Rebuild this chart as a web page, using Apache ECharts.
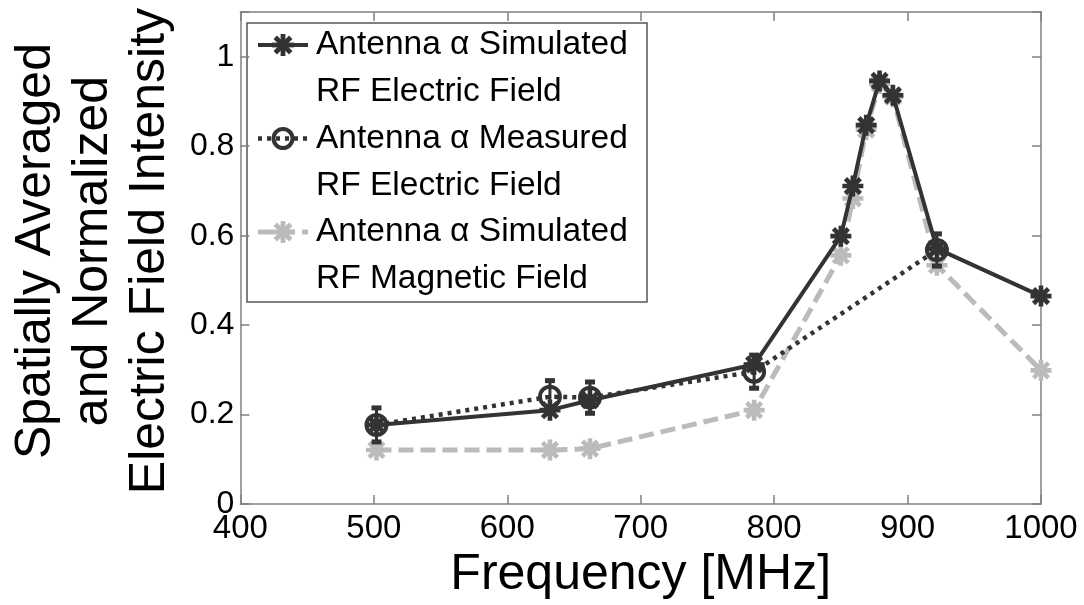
<!DOCTYPE html>
<html>
<head>
<meta charset="utf-8">
<script src="https://cdn.jsdelivr.net/npm/echarts@6/dist/echarts.min.js"></script>
<style>
html, body { margin: 0; padding: 0; background: #ffffff; }
#chart { width: 1084px; height: 605px; }
</style>
</head>
<body>
<div id="chart"></div>
<script>
// Frequencies (MHz) of the simulated sweep
const freqSim = [502, 632, 662, 785, 850, 859, 869, 879, 889, 922, 1000];
// Simulated RF electric field, normalized
const simElectric = [0.177, 0.210, 0.232, 0.312, 0.599, 0.711, 0.847, 0.946, 0.914, 0.571, 0.465];
// Simulated RF magnetic field, normalized
const simMagnetic = [0.121, 0.121, 0.124, 0.210, 0.556, 0.683, 0.837, 0.940, 0.910, 0.534, 0.299];
// Measured frequencies (MHz), values and error half-widths
const freqMeas = [502, 632, 662, 785, 922];
const measElectric = [0.177, 0.240, 0.238, 0.296, 0.568];
const measError = [0.038, 0.036, 0.035, 0.037, 0.036];

// Legend captions (two lines each)
const legendLabels = [
  ['Antenna \u03b1 Simulated', 'RF Electric Field'],
  ['Antenna \u03b1 Measured', 'RF Electric Field'],
  ['Antenna \u03b1 Simulated', 'RF Magnetic Field']
];
const xTitle = 'Frequency [MHz]';
const yTitle = ['Spatially Averaged', 'and Normalized', 'Electric Field Intensity'];

const DARK = '#333333';
const LIGHT = '#bbbbbb';
const AXIS = '#808080';
const FONT = 'Liberation Sans, Arial, sans-serif';

// Corner points of the four crossing bars that form an eight-spoked asterisk
function asteriskBars(cx, cy, R, w) {
  return [0, 45, 90, 135].map(function (deg) {
    const t = deg * Math.PI / 180, c = Math.cos(t), s = Math.sin(t);
    const nx = -s * w, ny = c * w;
    return [
      [cx + R * c + nx, cy + R * s + ny],
      [cx + R * c - nx, cy + R * s - ny],
      [cx - R * c - nx, cy - R * s - ny],
      [cx - R * c + nx, cy - R * s + ny]
    ];
  });
}
const ASTER = 'path://' + asteriskBars(10, 10, 10, 2.2).map(function (pts) {
  return 'M' + pts.map(function (p) { return p[0].toFixed(3) + ' ' + p[1].toFixed(3); }).join(' L') + ' Z';
}).join(' ');

const pairs = (xs, ys) => xs.map((x, i) => [x, ys[i]]);

// Legend drawn as a framed block with two-line captions
function buildLegend() {
  const LX = 247, LY = 23, LW = 400, LH = 279;
  const pitch = 93.5, first = LY + 22, lineGap = 47;
  const children = [{
    type: 'rect',
    shape: { x: LX, y: LY, width: LW, height: LH },
    style: { fill: '#ffffff', stroke: '#555555', lineWidth: 1.5 }
  }];
  const styles = [
    { color: DARK, dash: null, lw: 4, mark: 'aster' },
    { color: DARK, dash: [4, 5], lw: 4.5, mark: 'circle' },
    { color: LIGHT, dash: [15, 7], lw: 5, mark: 'aster' }
  ];
  legendLabels.forEach(function (lines, i) {
    const cy = first + i * pitch;
    const st = styles[i];
    const lineStyle = { stroke: st.color, lineWidth: st.lw };
    if (st.dash) lineStyle.lineDash = st.dash;
    children.push({
      type: 'line',
      shape: { x1: 258, y1: cy, x2: 308, y2: cy },
      style: lineStyle
    });
    if (st.mark === 'aster') {
      asteriskBars(283, cy, 11, 2.4).forEach(function (pts) {
        children.push({ type: 'polygon', shape: { points: pts }, style: { fill: st.color } });
      });
    } else {
      children.push({
        type: 'circle',
        shape: { cx: 283, cy: cy, r: 9.5 },
        style: { fill: 'rgba(0,0,0,0)', stroke: st.color, lineWidth: 4 }
      });
    }
    lines.forEach(function (t, k) {
      children.push({
        type: 'text',
        x: 316, y: cy + k * lineGap,
        style: { text: t, font: '33.5px ' + FONT, fill: '#000000', verticalAlign: 'middle', align: 'left' }
      });
    });
  });
  return { type: 'group', z: 100, children: children };
}

const chart = echarts.init(document.getElementById('chart'), null, { renderer: 'canvas' });

const xLabelFmt = function (v) { return String(v); };
const yLabelFmt = function (v) {
  return Math.abs(v * 5 - Math.round(v * 5)) < 1e-6 ? String(+v.toFixed(1)) : '';
};

const baseAxis = {
  axisLine: { show: true, onZero: false, lineStyle: { color: AXIS, width: 1.5 } },
  axisTick: { show: true, inside: true, length: 9, lineStyle: { color: AXIS, width: 1.5 } },
  splitLine: { show: false }
};

chart.setOption({
  animation: false,
  backgroundColor: '#ffffff',
  grid: { left: 238, right: 43, top: 12, bottom: 99, containLabel: false },
  xAxis: [
    Object.assign({}, baseAxis, {
      type: 'value', min: 400, max: 1000, interval: 100, position: 'bottom',
      axisLabel: { color: '#000000', fontSize: 33, fontFamily: FONT, margin: 8, formatter: xLabelFmt },
      name: xTitle, nameLocation: 'middle', nameGap: 41,
      nameTextStyle: { color: '#000000', fontSize: 50, fontFamily: FONT }
    }),
    Object.assign({}, baseAxis, {
      type: 'value', min: 400, max: 1000, interval: 100, position: 'top',
      axisLabel: { show: false }
    })
  ],
  yAxis: [
    Object.assign({}, baseAxis, {
      type: 'value', min: 0, max: 1.1, interval: 0.2, position: 'left',
      axisLabel: { color: '#000000', fontSize: 32, fontFamily: FONT, margin: 6, formatter: yLabelFmt },
      name: yTitle.join('\n'), nameLocation: 'middle', nameRotate: 90, nameGap: 60,
      nameTextStyle: { color: '#000000', fontSize: 50, fontFamily: FONT, lineHeight: 57, padding: [0, 0, 0, 14] }
    }),
    Object.assign({}, baseAxis, {
      type: 'value', min: 0, max: 1.1, interval: 0.2, position: 'right',
      axisLabel: { show: false }
    })
  ],
  series: [
    {
      name: 'Antenna \u03b1 Simulated RF Magnetic Field',
      type: 'line', xAxisIndex: 0, yAxisIndex: 0, z: 2,
      data: pairs(freqSim, simMagnetic),
      symbol: ASTER, symbolSize: 21,
      lineStyle: { color: LIGHT, width: 5, type: [15, 7] },
      itemStyle: { color: LIGHT }
    },
    {
      name: 'Antenna \u03b1 Simulated RF Electric Field',
      type: 'line', xAxisIndex: 0, yAxisIndex: 0, z: 3,
      data: pairs(freqSim, simElectric),
      symbol: ASTER, symbolSize: 21,
      lineStyle: { color: DARK, width: 4 },
      itemStyle: { color: DARK }
    },
    {
      name: 'Antenna \u03b1 Measured RF Electric Field',
      type: 'line', xAxisIndex: 0, yAxisIndex: 0, z: 4,
      data: pairs(freqMeas, measElectric),
      symbol: 'circle', symbolSize: 20,
      lineStyle: { color: DARK, width: 4.5, type: [4, 5] },
      itemStyle: { color: 'rgba(0,0,0,0)', borderColor: DARK, borderWidth: 4 }
    },
    {
      name: 'Measured error',
      type: 'custom', xAxisIndex: 0, yAxisIndex: 0, z: 5,
      data: freqMeas.map((f, i) => [f, measElectric[i], measError[i]]),
      encode: { x: 0, y: 1 },
      renderItem: function (params, api) {
        const x = api.value(0), y = api.value(1), e = api.value(2);
        const top = api.coord([x, y + e]);
        const bot = api.coord([x, y - e]);
        const cw = 5;
        return {
          type: 'group',
          children: [
            { type: 'line', shape: { x1: top[0], y1: top[1], x2: bot[0], y2: bot[1] }, style: { stroke: DARK, lineWidth: 3 } },
            { type: 'line', shape: { x1: top[0] - cw, y1: top[1], x2: top[0] + cw, y2: top[1] }, style: { stroke: DARK, lineWidth: 5 } },
            { type: 'line', shape: { x1: bot[0] - cw, y1: bot[1], x2: bot[0] + cw, y2: bot[1] }, style: { stroke: DARK, lineWidth: 5 } }
          ]
        };
      }
    }
  ],
  graphic: [buildLegend()]
});
</script>
</body>
</html>
